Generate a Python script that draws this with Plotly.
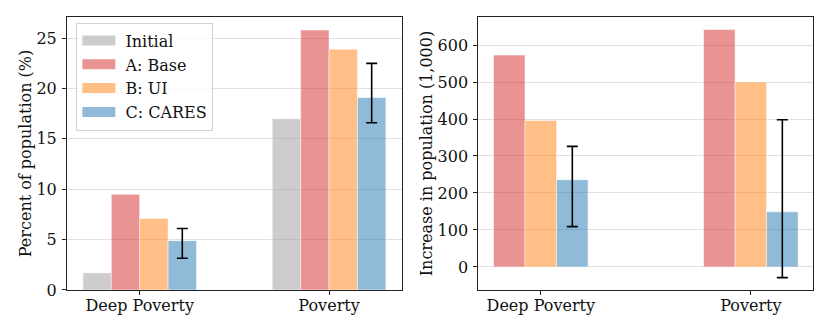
import plotly.graph_objects as go
from plotly.subplots import make_subplots

categories = ['Deep Poverty', 'Poverty']
series = ['Initial', 'A: Base', 'B: UI', 'C: CARES']

# percent of population (%)
pct_initial = [1.7, 17.0]
pct_base = [9.5, 25.8]
pct_ui = [7.1, 23.9]
pct_cares = [4.9, 19.1]
pct_cares_low = [3.15, 16.6]
pct_cares_high = [6.1, 22.5]

# increase in population (1,000)
inc_base = [573, 642]
inc_ui = [396, 500]
inc_cares = [236, 149]
inc_cares_low = [109, -29]
inc_cares_high = [326, 398]

colors = {
    'Initial': 'rgba(153,153,153,0.5)',
    'A: Base': 'rgba(214,39,40,0.5)',
    'B: UI': 'rgba(255,127,14,0.5)',
    'C: CARES': 'rgba(31,119,180,0.5)',
}

FONT = 'DejaVu Serif'
FS = 16
W = 0.15

fig = make_subplots(rows=1, cols=2)


def err(vals, lo, hi):
    return dict(type='data', symmetric=False,
                array=[h - v for v, h in zip(vals, hi)],
                arrayminus=[v - l for v, l in zip(vals, lo)],
                color='black', thickness=1.6, width=5.5)


left = [('Initial', pct_initial, None), ('A: Base', pct_base, None),
        ('B: UI', pct_ui, None),
        ('C: CARES', pct_cares, err(pct_cares, pct_cares_low, pct_cares_high))]
for n, (name, vals, e) in enumerate(left):
    fig.add_trace(go.Bar(x=categories, y=vals, name=name, width=W,
                         offset=-2 * W + n * W, marker_color=colors[name],
                         marker_line=dict(color='rgba(255,255,255,0.5)', width=1),
                         error_y=e, showlegend=False), row=1, col=1)

right = [('A: Base', inc_base, None), ('B: UI', inc_ui, None),
         ('C: CARES', inc_cares, err(inc_cares, inc_cares_low, inc_cares_high))]
for n, (name, vals, e) in enumerate(right):
    fig.add_trace(go.Bar(x=categories, y=vals, name=name, width=W,
                         offset=-1.5 * W + n * W, marker_color=colors[name],
                         marker_line=dict(color='rgba(255,255,255,0.5)', width=1),
                         error_y=e, showlegend=False), row=1, col=2)

# legend entries with wide swatches (nbsp gives a bit of gap after swatch)
for name in series:
    fig.add_trace(go.Scatter(x=[None], y=[None], mode='lines',
                             name='\u00a0' + name,
                             line=dict(color=colors[name], width=10)),
                  row=1, col=1)

axis_common = dict(showline=True, linecolor='#222', linewidth=1, mirror=True,
                   ticks='outside', ticklen=4, tickcolor='#222', automargin=False,
                   tickfont=dict(family=FONT, size=FS, color='#111'))

fig.update_xaxes(type='category', showgrid=False, ticklabelstandoff=-3,
                 **axis_common)
fig.update_yaxes(showgrid=True, gridcolor='#e0e0e0', gridwidth=1,
                 zeroline=False, ticklabelstandoff=2, **axis_common)

fig.update_xaxes(domain=[0.0807, 0.4843], range=[-0.384, 1.385], row=1, col=1)
fig.update_xaxes(domain=[0.5763, 0.9799], range=[-0.2975, 1.2975], row=1, col=2)
fig.update_yaxes(domain=[0.1265, 0.9488], range=[0, 27.1], dtick=5,
                 title=dict(text='Percent of population (%)', standoff=0,
                            font=dict(family=FONT, size=FS, color='#111')),
                 row=1, col=1)
fig.update_yaxes(domain=[0.1265, 0.9488], range=[-62.5, 676], dtick=100,
                 title=dict(text='Increase in population (1,000)', standoff=0,
                            font=dict(family=FONT, size=FS, color='#111')),
                 row=1, col=2)

fig.update_layout(
    width=830, height=332,
    margin=dict(l=0, r=0, t=0, b=0),
    barmode='overlay',
    plot_bgcolor='white', paper_bgcolor='white',
    font=dict(family=FONT, size=FS, color='#111'),
    legend=dict(x=0.092, y=0.932, xanchor='left', yanchor='top',
                itemwidth=33,
                bgcolor='rgba(255,255,255,0.8)', bordercolor='#d0d0d0',
                borderwidth=1, font=dict(family=FONT, size=FS, color='#111'),
                tracegroupgap=0),
)

# page has a default 8px body margin; drop it so the figure sits at 0,0
fig.write_html('out.html', config={'displayModeBar': False},
               post_script="document.body.style.margin='0';")
